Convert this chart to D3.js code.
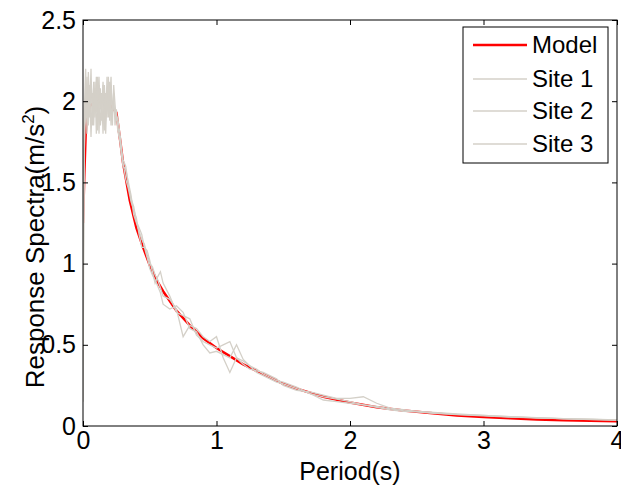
<!DOCTYPE html>
<html><head><meta charset="utf-8">
<script src="https://cdn.jsdelivr.net/npm/d3@7"></script>
<style>body{margin:0;background:#fff}svg{display:block}text{font-family:Arial,"Liberation Sans",sans-serif}</style>
</head><body><svg id="c" width="621" height="490"></svg>
<script>
const modelPeriods = [0,0.01,0.02,0.03,0.05,0.1,0.15,0.2,0.25,0.28,0.3,0.35,0.4,0.45,0.5,0.55,0.6,0.7,0.8,0.9,1.0,1.1,1.2,1.3,1.4,1.5,1.6,1.8,2.0,2.2,2.4,2.6,2.8,3.0,3.2,3.4,3.6,3.8,4.0];
const modelValues = [1.25,1.55,1.8,1.9,1.97,2.0,2.0,1.98,1.93,1.75,1.62,1.39,1.22,1.1,0.99,0.9,0.83,0.71,0.62,0.54,0.48,0.43,0.38,0.34,0.3,0.26,0.23,0.18,0.145,0.115,0.095,0.08,0.065,0.055,0.047,0.04,0.036,0.032,0.03];

const sitePeriods = [0,0.01,0.02,0.03,0.04,0.05,0.06,0.07,0.08,0.09,0.10,0.11,0.12,0.13,0.14,0.15,0.16,0.17,0.18,0.19,0.20,0.21,0.22,0.23,0.24,0.25,0.26,0.27,0.28,0.29,0.30,
 0.32,0.34,0.36,0.38,0.40,0.42,0.44,0.46,0.48,0.50,0.52,0.54,0.56,0.58,0.60,
 0.65,0.70,0.75,0.80,0.85,0.90,0.95,1.00,1.05,1.10,1.15,1.20,1.25,1.30,1.35,1.40,1.45,1.50,
 1.6,1.7,1.8,1.9,2.0,2.1,2.2,2.3,2.4,
 2.6,2.8,3.0,3.2,3.4,3.6,3.8,4.0];
const site1 = [0.15,1.85,2.05,1.9,2.18,1.95,2.2,1.85,2.12,1.9,2.15,1.82,2.1,1.95,2.05,1.8,2.1,1.88,2.15,1.9,2.12,1.85,2.0,1.95,1.92,1.9,1.85,1.8,1.72,1.66,1.6,
 1.58,1.5,1.42,1.3,1.25,1.2,1.15,1.12,1.05,1.0,0.98,0.93,0.9,0.85,0.8,
 0.78,0.72,0.55,0.62,0.6,0.55,0.52,0.55,0.42,0.33,0.42,0.4,0.37,0.35,0.32,0.3,0.28,0.27,
 0.24,0.2,0.16,0.15,0.14,0.13,0.12,0.105,0.095,
 0.085,0.075,0.065,0.057,0.05,0.045,0.04,0.037];
const site2 = [0.7,1.7,1.95,2.15,1.85,2.1,1.78,2.05,1.9,2.12,1.8,2.0,2.15,1.85,1.95,2.1,1.82,2.05,1.9,2.15,1.88,2.1,1.92,2.05,1.85,1.95,1.82,1.78,1.75,1.68,1.62,
 1.52,1.46,1.38,1.33,1.28,1.18,1.1,1.1,1.08,1.02,0.95,0.88,0.92,0.95,0.88,
 0.8,0.7,0.68,0.66,0.56,0.52,0.5,0.48,0.5,0.52,0.42,0.38,0.35,0.34,0.33,0.31,0.29,0.25,
 0.22,0.21,0.19,0.17,0.17,0.18,0.14,0.11,0.1,
 0.08,0.07,0.062,0.055,0.05,0.046,0.042,0.038];
const site3 = [1.1,1.95,2.2,1.8,2.1,1.9,2.12,1.98,1.85,2.08,1.93,2.15,1.8,2.08,1.88,2.12,1.95,1.8,2.05,1.92,2.0,2.15,1.85,2.1,1.98,1.88,1.9,1.84,1.78,1.7,1.64,
 1.6,1.48,1.4,1.35,1.26,1.22,1.18,1.1,1.04,0.97,0.93,0.9,0.86,0.82,0.75,
 0.72,0.74,0.7,0.6,0.58,0.5,0.45,0.46,0.44,0.42,0.5,0.41,0.37,0.33,0.31,0.29,0.27,0.26,
 0.23,0.2,0.18,0.165,0.15,0.13,0.115,0.1,0.09,
 0.083,0.072,0.066,0.058,0.052,0.044,0.041,0.036];

const xTicks = [0,1,2,3,4];
const yTicks = [0,0.5,1,1.5,2,2.5];
const legendLabels = ["Model","Site 1","Site 2","Site 3"];

const red = "#ff0000", gray = "#d4d0c8";
const L = 83, R = 617, T = 20, B = 426;
const svg = d3.select("#c");
const x = d3.scaleLinear().domain([0,4]).range([L,R]);
const y = d3.scaleLinear().domain([0,2.5]).range([B,T]);

svg.append("defs").append("clipPath").attr("id","clip").append("rect")
  .attr("x",L).attr("y",T).attr("width",R-L).attr("height",B-T);

const g = svg.append("g").attr("clip-path","url(#clip)");
const line = d3.line().x(d=>x(d[0])).y(d=>y(d[1]));
g.append("path").datum(d3.zip(modelPeriods,modelValues)).attr("d",line)
  .attr("fill","none").attr("stroke",red).attr("stroke-width",2.5);
[site1,site2,site3].forEach(s=>{
  g.append("path").datum(d3.zip(sitePeriods,s)).attr("d",line)
    .attr("fill","none").attr("stroke",gray).attr("stroke-width",1.3);
});

svg.append("rect").attr("x",L).attr("y",T).attr("width",R-L).attr("height",B-T)
  .attr("fill","none").attr("stroke","#000").attr("stroke-width",1);

const font = 25;
const ff = "Arial, 'Liberation Sans', sans-serif";
const ax = svg.append("g").attr("class","axes");
ax.append("g").attr("transform",`translate(0,${B})`)
  .call(d3.axisBottom(x).tickValues(xTicks).tickFormat(d3.format("d")).tickSizeInner(-5).tickSizeOuter(0).tickPadding(5))
  .call(s=>{s.select(".domain").remove();s.selectAll("line").attr("stroke","#000");s.selectAll("text").attr("font-size",font).attr("fill","#000").attr("font-family",ff);});
ax.append("g").attr("transform",`translate(0,${T})`)
  .call(d3.axisTop(x).tickValues(xTicks).tickFormat("").tickSizeInner(-5).tickSizeOuter(0))
  .call(s=>s.select(".domain").remove());
ax.append("g").attr("transform",`translate(${L},0)`)
  .call(d3.axisLeft(y).tickValues(yTicks).tickFormat(d=>String(d)).tickSizeInner(-5).tickSizeOuter(0).tickPadding(7))
  .call(s=>{s.select(".domain").remove();s.selectAll("text").attr("font-size",font).attr("fill","#000").attr("font-family",ff);});
ax.append("g").attr("transform",`translate(${R},0)`)
  .call(d3.axisRight(y).tickValues(yTicks).tickFormat("").tickSizeInner(-5).tickSizeOuter(0))
  .call(s=>s.select(".domain").remove());

svg.append("text").attr("x",(L+R)/2).attr("y",480).attr("text-anchor","middle")
  .attr("font-size",font).text("Period(s)");
const yl = svg.append("text").attr("transform",`translate(44,247) rotate(-90)`)
  .attr("text-anchor","middle").attr("font-size",26);
yl.append("tspan").text("Response Spectra(m/s");
yl.append("tspan").attr("font-size",17).attr("dy",-10).text("2");
yl.append("tspan").attr("dy",10).text(")");

const lg = svg.append("g");
lg.append("rect").attr("x",463).attr("y",27).attr("width",145).attr("height",136)
  .attr("fill","#fff").attr("stroke","#000").attr("stroke-width",1);
const rowsY = [45,79,111,144];
legendLabels.forEach((lab,i)=>{
  lg.append("line").attr("x1",473).attr("x2",527).attr("y1",rowsY[i]).attr("y2",rowsY[i])
    .attr("stroke",i===0?red:gray).attr("stroke-width",i===0?2.5:1.3);
  lg.append("text").attr("x",532).attr("y",rowsY[i]+8).attr("font-size",24).text(lab);
});
</script></body></html>
